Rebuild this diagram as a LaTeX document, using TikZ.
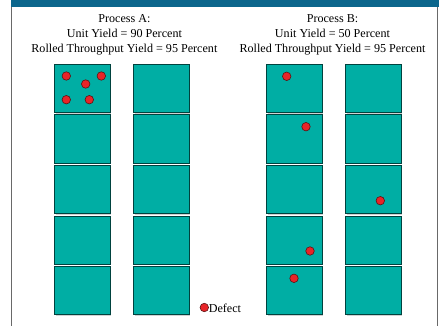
\documentclass[tikz,border=0pt]{standalone}
\usepackage{fontspec}
\setmainfont{Liberation Serif}
\usetikzlibrary{shadows}
\definecolor{band}{RGB}{12,102,140}
\definecolor{framegray}{RGB}{105,105,105}
\definecolor{cellfill}{RGB}{0,174,164}
\definecolor{celledge}{RGB}{0,66,62}
\definecolor{defectred}{RGB}{232,36,40}
\definecolor{defectedge}{RGB}{90,20,20}
\tikzset{
  cell/.style={draw=celledge, line width=1pt, fill=cellfill, anchor=north west,
    minimum width=55.5pt, minimum height=48pt, inner sep=0pt,
    drop shadow={shadow xshift=1.3pt, shadow yshift=-1.3pt, fill=black!18, opacity=1}},
  defect/.style={circle, draw=defectedge, line width=0.6pt, fill=defectred,
    minimum size=8.5pt, inner sep=0pt},
  label/.style={font=\fontsize{12.1}{15}\selectfont, anchor=base, inner sep=0pt},
}
\begin{document}
\begin{tikzpicture}[x=1pt, y=-1pt]
\useasboundingbox (0,0) rectangle (439,326);
% header band and frame
\fill[band] (11,0) rectangle (439,7);
\draw[framegray, line width=1pt] (11.5,7) -- (11.5,326);
\draw[framegray, line width=1pt] (437,7) -- (437,326);
% texts
\node[label] (ta1) at (124.4,22.5) {Process A:};
\node[label] (ta2) at (124.4,37.5) {Unit Yield = 90 Percent};
\node[label] (ta3) at (124.4,52.5) {Rolled Throughput Yield = 95 Percent};
\node[label] (tb1) at (332.5,22.5) {Process B:};
\node[label] (tb2) at (332.5,37.5) {Unit Yield = 50 Percent};
\node[label] (tb3) at (332.5,52.5) {Rolled Throughput Yield = 95 Percent};
% cells
\foreach \r in {1,...,5}{
  \pgfmathsetmacro{\yy}{64+50.5*(\r-1)}
  \node[cell] (a1r\r) at (54,\yy) {};
  \node[cell] (a2r\r) at (133,\yy) {};
  \node[cell] (b1r\r) at (266,\yy) {};
  \node[cell] (b2r\r) at (345,\yy) {};
}
% defects
\node[defect] (d1) at (66.3,76) {};
\node[defect] (d2) at (101.3,76) {};
\node[defect] (d3) at (85.7,84) {};
\node[defect] (d4) at (66.3,99.7) {};
\node[defect] (d5) at (89.3,99.7) {};
\node[defect] (d6) at (286.7,76.3) {};
\node[defect] (d7) at (306,126.7) {};
\node[defect] (d8) at (380.3,200.7) {};
\node[defect] (d9) at (310,251) {};
\node[defect] (d10) at (294,278.3) {};
% legend
\node[defect] (ld) at (204.3,307.5) {};
\node[label, anchor=base west] (lt) at (208.6,312) {Defect};
\end{tikzpicture}
\end{document}
